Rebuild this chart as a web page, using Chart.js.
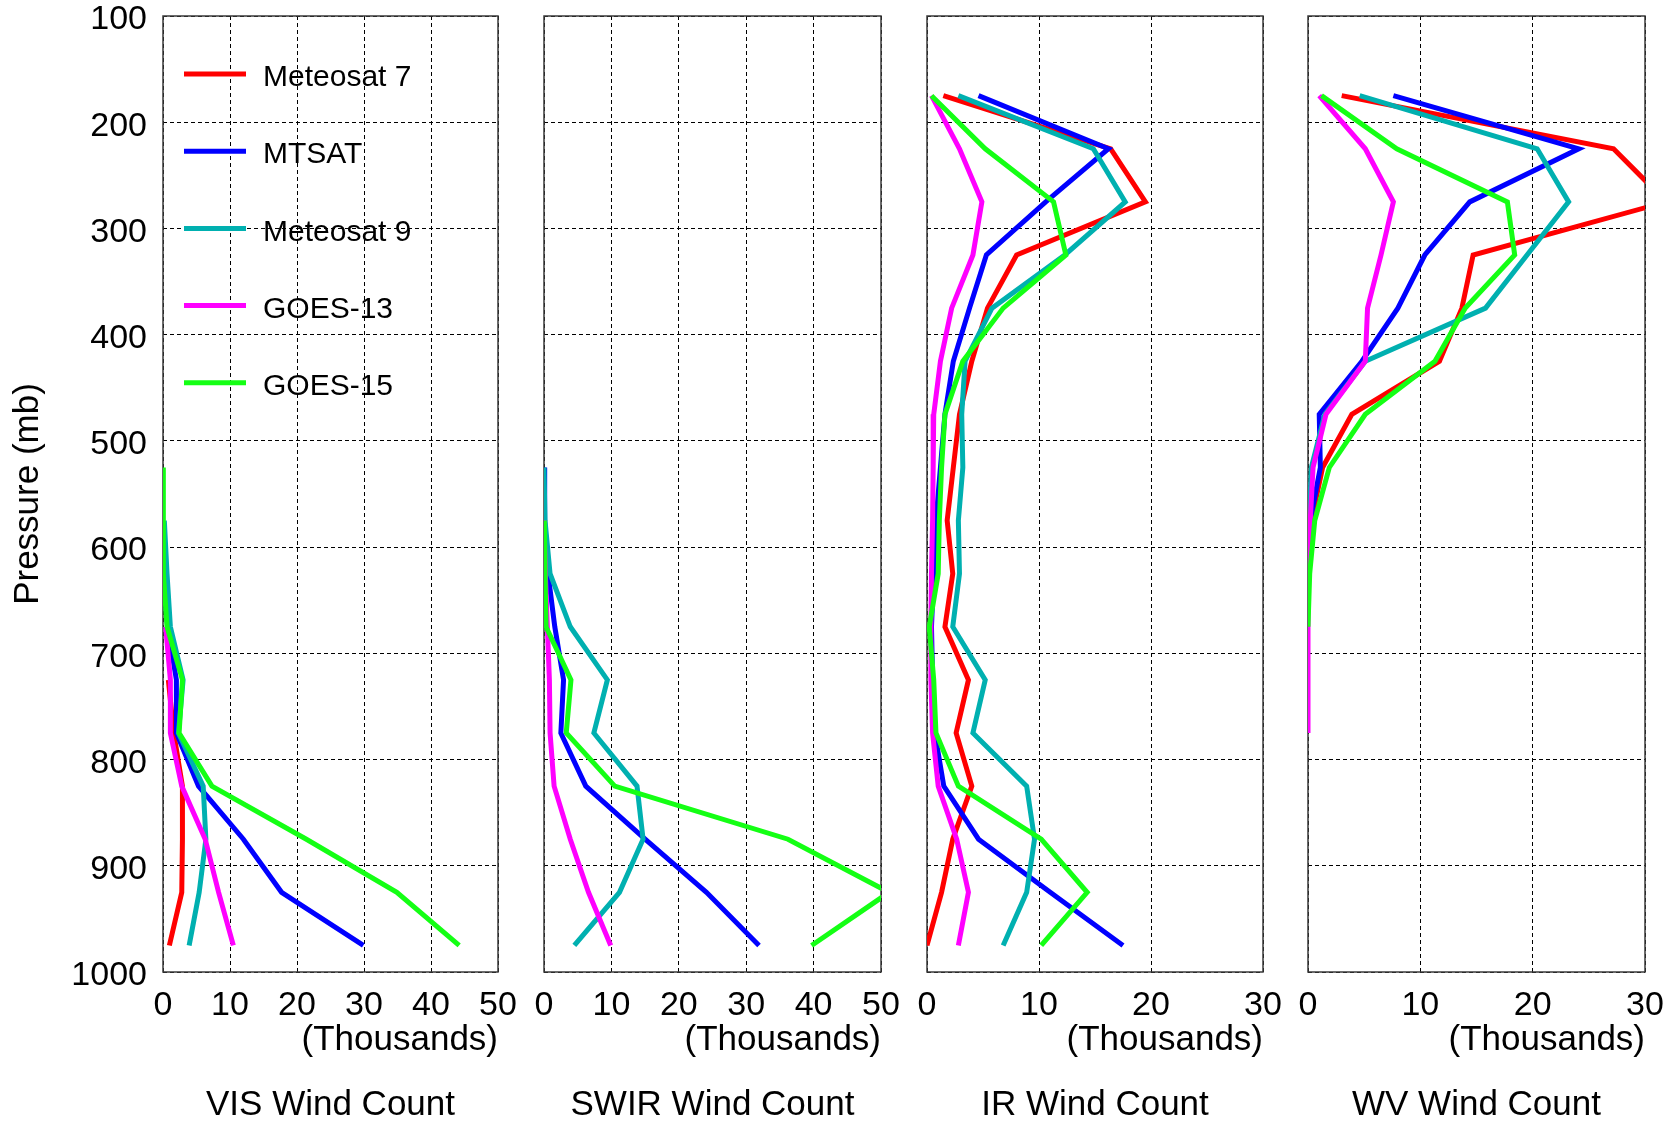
<!DOCTYPE html>
<html>
<head>
<meta charset="utf-8">
<title>Wind Count by Pressure Level</title>
<script src="https://cdn.jsdelivr.net/npm/chart.js@4.4.1/dist/chart.umd.min.js"></script>
<style>
  html, body { margin: 0; padding: 0; background: #fff; overflow: hidden; }
  #wrap { position: relative; width: 1677px; height: 1125px; overflow: hidden; background: #fff; }
  #wrap canvas { position: absolute; }
</style>
</head>
<body>
<div id="wrap">
  <canvas id="vis"></canvas>
  <canvas id="swir"></canvas>
  <canvas id="ir"></canvas>
  <canvas id="wv"></canvas>
</div>
<script>
// pressure levels (mb), one bin every 50 mb
const levels = [175, 225, 275, 325, 375, 425, 475, 525, 575, 625, 675, 725, 775, 825, 875, 925, 975];
const satNames = ['Meteosat 7', 'MTSAT', 'Meteosat 9', 'GOES-13', 'GOES-15'];
const satColors = ['#ff0000', '#0000ff', '#00b0b0', '#ff00ff', '#14ff14'];
const xTicksWide = [0, 10, 20, 30, 40, 50];
const xTicksNarrow = [0, 10, 20, 30];

// wind counts in thousands, rows follow satNames, columns follow levels
const visCounts = [
  [null, null, null, null, null, null, null, null, null, null, null, 0.8, 1.6, 2.9, 2.9, 2.8, 0.95],
  [null, null, null, null, null, null, null, null, null, 0, 0.7, 2.0, 2.0, 5.3, 12.0, 17.7, 29.9],
  [null, null, null, null, null, null, null, null, 0.2, 0.6, 1.1, 3.0, 2.3, 6.0, 6.4, 5.4, 3.9],
  [null, null, null, null, null, null, null, null, null, null, 0.4, 1.1, 1.1, 2.8, 6.3, 8.3, 10.5],
  [null, null, null, null, null, null, null, 0, 0, 0.1, 0.6, 2.9, 2.4, 7.3, 21.4, 34.9, 44.2]
];
const swirCounts = [
  [null, null, null, null, null, null, null, null, null, null, null, null, null, null, null, null, null],
  [null, null, null, null, null, null, null, 0, 0.1, 0.6, 1.6, 2.9, 2.5, 6.2, 15.0, 24.1, 31.9],
  [null, null, null, null, null, null, null, 0, 0.15, 0.9, 3.9, 9.4, 7.4, 13.8, 14.7, 11.2, 4.5],
  [null, null, null, null, null, null, null, null, 0, 0.2, 0.5, 0.8, 0.9, 1.5, 3.9, 6.6, 9.9],
  [null, null, null, null, null, null, null, null, 0.05, 0.15, 0.3, 4.0, 3.3, 10.5, 36.2, 51.2, 39.7]
];
const irCounts = [
  [1.46, 16.4, 19.5, 8.0, 5.4, 4.0, 2.9, 2.35, 1.8, 2.3, 1.6, 3.7, 2.6, 4.0, 2.3, 1.3, 0],
  [4.6, 16.2, 10.6, 5.3, 3.8, 2.35, 1.6, 1.2, 0.8, 0.6, 0.4, 0.5, 0.7, 1.5, 4.6, 11.0, 17.5],
  [2.8, 14.85, 17.7, 12.3, 5.8, 3.4, 3.1, 3.2, 2.8, 2.9, 2.3, 5.2, 4.1, 8.9, 9.6, 8.9, 6.8],
  [0.4, 2.9, 4.9, 4.1, 2.2, 1.2, 0.6, 0.55, 0.5, 0.4, 0.35, 0.35, 0.5, 1.0, 2.65, 3.7, 2.8],
  [0.4, 5.2, 11.3, 12.4, 6.8, 3.2, 1.6, 1.3, 1.1, 1.0, 0.2, 0.6, 0.8, 2.8, 10.2, 14.3, 10.2]
];
const wvCounts = [
  [3.0, 27.2, 31.9, 14.7, 13.7, 11.7, 3.9, 1.3, 0.3, 0, null, null, null, null, null, null, null],
  [7.6, 24.1, 14.4, 10.4, 8.0, 4.8, 1.0, 1.1, 0.2, null, null, null, null, null, null, null, null],
  [4.6, 20.4, 23.2, 19.5, 15.8, 5.1, 1.5, 0.3, 0.1, 0, null, null, null, null, null, null, null],
  [1.0, 5.1, 7.6, 6.5, 5.3, 5.1, 1.6, 0.45, 0.2, 0, 0, 0, 0, null, null, null, null],
  [1.2, 7.9, 17.75, 18.4, 14.0, 11.3, 5.1, 1.9, 0.6, 0.15, 0, null, null, null, null, null, null]
];

const FONT = "'Liberation Sans', Arial, Helvetica, sans-serif";
const SHIFT = 30;        // canvases start above the page so the top tick label fits
const CANVAS_H = 1185;
const AREA_TOP = 16;

const panels = [
  { id: 'vis', title: 'VIS Wind Count', counts: visCounts, ticks: xTicksWide, left: 163, right: 498, axis: true },
  { id: 'swir', title: 'SWIR Wind Count', counts: swirCounts, ticks: xTicksWide, left: 544, right: 881, axis: false },
  { id: 'ir', title: 'IR Wind Count', counts: irCounts, ticks: xTicksNarrow, left: 927, right: 1263, axis: false },
  { id: 'wv', title: 'WV Wind Count', counts: wvCounts, ticks: xTicksNarrow, left: 1308, right: 1645, axis: false }
];

function toPoints(row) {
  const pts = [];
  row.forEach(function(v, i) {
    if (v !== null) pts.push({ x: v, y: levels[i] });
  });
  return pts;
}

// solid box round each plot, under the lines
const frame = {
  id: 'frame',
  beforeDatasetsDraw(chart) {
    const a = chart.chartArea;
    const ctx = chart.ctx;
    ctx.save();
    ctx.strokeStyle = '#3a3a3a';
    ctx.lineWidth = 1.5;
    ctx.strokeRect(a.left, a.top, a.right - a.left, a.bottom - a.top);
    ctx.restore();
  }
};

// satellite key, sits inside the first plot
const satLegend = {
  id: 'satLegend',
  afterDraw(chart) {
    const a = chart.chartArea;
    const ctx = chart.ctx;
    ctx.save();
    ctx.font = '30px ' + FONT;
    ctx.textBaseline = 'middle';
    ctx.fillStyle = '#000';
    ctx.lineWidth = 5;
    satNames.forEach(function(name, i) {
      const y = a.top + 58 + i * 77.2;
      ctx.strokeStyle = satColors[i];
      ctx.beginPath();
      ctx.moveTo(a.left + 21, y);
      ctx.lineTo(a.left + 83, y);
      ctx.stroke();
      ctx.fillText(name, a.left + 100, y + 4);
    });
    ctx.restore();
  }
};

function makePanel(p) {
  const padLeft = p.axis ? 0 : 40;
  const yWidth = p.axis ? p.left : 0;
  const canvasLeft = p.left - padLeft - yWidth;
  const padRight = 42;
  const canvas = document.getElementById(p.id);
  canvas.width = p.right + padRight - canvasLeft;
  canvas.height = CANVAS_H;
  canvas.style.left = canvasLeft + 'px';
  canvas.style.top = (-SHIFT) + 'px';

  const xMax = p.ticks[p.ticks.length - 1];
  const gridOpts = { color: '#000', lineWidth: 1, drawTicks: false };
  const dashOpts = { display: false, dash: [4, 3] };

  const datasets = satNames.map(function(name, i) {
    return {
      label: name,
      data: toPoints(p.counts[i]),
      borderColor: satColors[i],
      backgroundColor: satColors[i],
      borderWidth: 5,
      pointRadius: 0,
      tension: 0,
      fill: false,
      clip: 0,
      order: satNames.length - i
    };
  });

  return new Chart(canvas, {
    type: 'line',
    data: { datasets: datasets },
    options: {
      responsive: false,
      maintainAspectRatio: false,
      devicePixelRatio: 1,
      animation: false,
      events: [],
      layout: {
        padding: { left: padLeft, right: padRight, top: AREA_TOP + SHIFT, bottom: 29 }
      },
      scales: {
        x: {
          type: 'linear',
          min: 0,
          max: xMax,
          afterBuildTicks(scale) {
            scale.ticks = p.ticks.map(function(v) { return { value: v }; });
          },
          ticks: {
            color: '#000',
            font: { family: FONT, size: 34 },
            padding: 13,
            maxRotation: 0,
            autoSkip: false,
            callback: function(v) { return String(v); }
          },
          grid: gridOpts,
          border: dashOpts,
          title: {
            display: true,
            text: '(Thousands)',
            align: 'end',
            color: '#000',
            font: { family: FONT, size: 35 },
            padding: 0
          },
          afterFit(scale) { scale.height = 89; }
        },
        y: {
          type: 'linear',
          reverse: true,
          min: 100,
          max: 1000,
          ticks: {
            display: p.axis,
            stepSize: 100,
            color: '#000',
            font: { family: FONT, size: 34 },
            padding: 16,
            labelOffset: 4,
            callback: function(v) { return String(v); }
          },
          grid: gridOpts,
          border: dashOpts,
          title: {
            display: p.axis,
            text: 'Pressure (mb)',
            color: '#000',
            font: { family: FONT, size: 35 },
            padding: { top: 7, bottom: 0 }
          },
          afterFit(scale) { scale.width = yWidth; }
        }
      },
      plugins: {
        legend: { display: false },
        tooltip: { enabled: false },
        title: {
          display: true,
          position: 'bottom',
          fullSize: false,
          text: p.title,
          color: '#000',
          font: { family: FONT, size: 35, weight: 'normal' },
          padding: { top: 23, bottom: 0 }
        }
      }
    },
    plugins: p.axis ? [frame, satLegend] : [frame]
  });
}

panels.forEach(makePanel);
</script>
</body>
</html>
